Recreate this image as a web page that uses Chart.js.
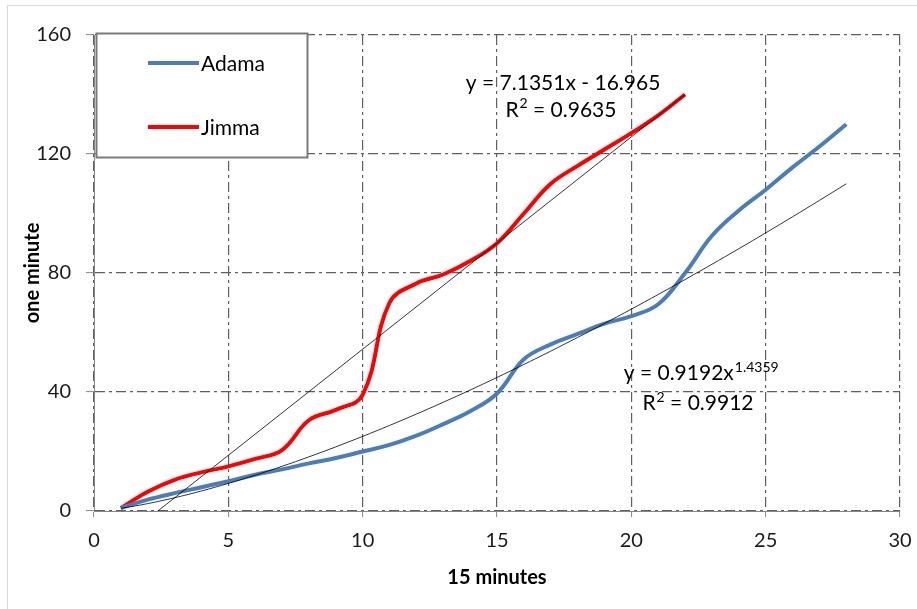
<!DOCTYPE html>
<html>
<head>
<meta charset="utf-8">
<script src="https://cdn.jsdelivr.net/npm/chart.js@4.4.0/dist/chart.umd.min.js"></script>
<style>
  html, body { margin: 0; padding: 0; background: #ffffff; }
  #wrap { width: 917px; height: 609px; position: relative; }
</style>
</head>
<body>
<div id="wrap"><canvas id="chart" width="917" height="609"></canvas></div>
<script>
// Readings taken every 15 minutes (x) against the one-minute value (y)
const adamaMinutes = [1, 2, 3, 4, 5, 6, 7, 8, 9, 10, 11, 12, 13, 14, 15, 16, 17, 18, 19, 20, 21, 22, 23, 24, 25, 26, 27, 28];
const adamaValues  = [1, 3.8, 6, 8, 10, 12.2, 14, 16, 17.8, 20, 22.2, 25.3, 29.2, 33.5, 39.5, 51, 56, 59.5, 63, 65.5, 69.5, 80, 92.5, 101, 108, 115.5, 122.5, 130];

const jimmaMinutes = [1, 2, 3, 4, 5, 6, 7, 8, 9, 10, 11, 12, 13, 14, 15, 16, 17, 18, 19, 20, 21, 22];
const jimmaValues  = [1, 6.5, 10.5, 13, 15, 17.5, 20.5, 30.5, 34, 39, 70, 76.5, 79.5, 84, 90, 100, 110, 116, 121.5, 127, 133, 140];

const xTickValues = [0, 5, 10, 15, 20, 25, 30];
const yTickValues = [0, 40, 80, 120, 160];

// Fitted trend lines
const jimmaSlope = 7.1351;
const jimmaIntercept = -16.965;
const jimmaR2 = '0.9635';
const adamaCoef = 0.9192;
const adamaExp = 1.4359;
const adamaR2 = '0.9912';

const FONT = 'Lato, Carlito, "Open Sans", sans-serif';
const BLUE = '#4a7ebb';
const RED = '#ff0000';

const toPoints = (xs, ys) => xs.map((x, i) => ({ x: x, y: ys[i] }));

const linearTrend = [jimmaMinutes[0], jimmaMinutes[jimmaMinutes.length - 1]]
  .map(x => ({ x: x, y: jimmaSlope * x + jimmaIntercept }));

const powerTrend = [];
for (let x = adamaMinutes[0]; x <= adamaMinutes[adamaMinutes.length - 1] + 1e-9; x += 0.25) {
  powerTrend.push({ x: x, y: adamaCoef * Math.pow(x, adamaExp) });
}

// Page background and outer frame
const frame = {
  id: 'frame',
  beforeDraw(chart) {
    const ctx = chart.ctx;
    ctx.save();
    ctx.fillStyle = '#ffffff';
    ctx.fillRect(0, 0, chart.width, chart.height);
    ctx.strokeStyle = '#d9d9d9';
    ctx.lineWidth = 1;
    ctx.strokeRect(7.5, 5.5, chart.width + 20, chart.height + 20);
    ctx.restore();
  }
};

// Draws a run of [text, isSuperscript] pieces centred on (cx, cy)
function drawRich(ctx, parts, cx, cy) {
  const big = '21px ' + FONT, small = '14px ' + FONT;
  let total = 0;
  const widths = parts.map(p => {
    ctx.font = p[1] ? small : big;
    const w = ctx.measureText(p[0]).width + (p[1] ? 1 : 0);
    total += w;
    return w;
  });
  let x = cx - total / 2;
  ctx.textAlign = 'left';
  parts.forEach((p, i) => {
    ctx.font = p[1] ? small : big;
    ctx.fillText(p[0], x + (p[1] ? 1 : 0), p[1] ? cy - 6 : cy);
    x += widths[i];
  });
}

// Boxed legend and trend-line equations
const overlay = {
  id: 'overlay',
  afterDraw(chart) {
    const ctx = chart.ctx;
    const xs = chart.scales.x, ys = chart.scales.y;
    ctx.save();

    // legend box
    const bx = 96.5, by = 33.5, bw = 211, bh = 124;
    ctx.fillStyle = '#ffffff';
    ctx.fillRect(bx, by, bw, bh);
    ctx.strokeStyle = '#7a7a7a';
    ctx.lineWidth = 2;
    ctx.strokeRect(bx, by, bw, bh);

    const entries = [
      { label: chart.data.datasets[0].label, color: BLUE, y: 63 },
      { label: chart.data.datasets[1].label, color: RED, y: 127 }
    ];
    ctx.font = '21px ' + FONT;
    ctx.textBaseline = 'middle';
    ctx.textAlign = 'left';
    entries.forEach(e => {
      ctx.strokeStyle = e.color;
      ctx.lineWidth = 4;
      ctx.beginPath();
      ctx.moveTo(148, e.y);
      ctx.lineTo(199, e.y);
      ctx.stroke();
      ctx.fillStyle = '#000000';
      ctx.fillText(e.label, 201, e.y + 1);
    });

    ctx.fillStyle = '#000000';

    // linear fit equation (Jimma)
    drawRich(ctx, [['y = ' + jimmaSlope + 'x - ' + Math.abs(jimmaIntercept), false]],
      xs.getPixelForValue(17.46), ys.getPixelForValue(143.9));
    drawRich(ctx, [['R', false], ['2', true], [' = ' + jimmaR2, false]],
      xs.getPixelForValue(17.38), ys.getPixelForValue(134.8));

    // power fit equation (Adama)
    drawRich(ctx, [['y = ' + adamaCoef + 'x', false], [String(adamaExp), true]],
      xs.getPixelForValue(22.6), ys.getPixelForValue(46.2));
    drawRich(ctx, [['R', false], ['2', true], [' = ' + adamaR2, false]],
      xs.getPixelForValue(22.48), ys.getPixelForValue(36.2));

    ctx.restore();
  }
};

const gridDash = [10, 4, 3, 4];

new Chart(document.getElementById('chart'), {
  type: 'line',
  data: {
    datasets: [
      { label: 'Adama', data: toPoints(adamaMinutes, adamaValues), borderColor: BLUE, borderWidth: 4,
        pointRadius: 0, tension: 0.4, fill: false, order: 2 },
      { label: 'Jimma', data: toPoints(jimmaMinutes, jimmaValues), borderColor: RED, borderWidth: 4,
        pointRadius: 0, tension: 0.4, fill: false, order: 2 },
      { label: 'Jimma trend', data: linearTrend, borderColor: '#000000', borderWidth: 0.8,
        pointRadius: 0, tension: 0, fill: false, order: 1 },
      { label: 'Adama trend', data: powerTrend, borderColor: '#000000', borderWidth: 0.8,
        pointRadius: 0, tension: 0, fill: false, order: 1 }
    ]
  },
  options: {
    responsive: false,
    animation: false,
    devicePixelRatio: 1,
    layout: { padding: { top: 35, right: 17, left: 0, bottom: 0 } },
    plugins: {
      legend: { display: false },
      tooltip: { enabled: false },
      title: { display: false }
    },
    scales: {
      x: {
        type: 'linear',
        min: 0, max: 30,
        afterFit(scale) { scale.height = 98; scale.paddingLeft = 0; scale.paddingRight = 0; },
        afterBuildTicks(scale) { scale.ticks = xTickValues.map(v => ({ value: v })); },
        ticks: { font: { family: FONT, size: 20 }, color: '#1a1a1a', padding: 12, maxRotation: 0 },
        grid: { color: '#5f5f5f', lineWidth: 1.2, tickLength: 6, tickColor: '#868686', tickWidth: 1, tickBorderDash: [] },
        border: { color: '#868686', width: 1, dash: gridDash },
        title: { display: true, text: '15 minutes', font: { family: FONT, size: 20, weight: 'bold' },
                 color: '#000000', padding: { top: 0, bottom: 19 } }
      },
      y: {
        type: 'linear',
        min: 0, max: 160,
        afterFit(scale) { scale.width = 94; scale.paddingTop = 0; scale.paddingBottom = 0; },
        afterBuildTicks(scale) { scale.ticks = yTickValues.map(v => ({ value: v })); },
        ticks: { font: { family: FONT, size: 20 }, color: '#1a1a1a', padding: 15 },
        grid: { color: '#5f5f5f', lineWidth: 1.2, tickLength: 8, tickColor: '#868686', tickWidth: 1, tickBorderDash: [] },
        border: { color: '#868686', width: 1, dash: gridDash },
        title: { display: true, text: 'one minute', font: { family: FONT, size: 20, weight: 'bold' },
                 color: '#000000', padding: { top: 21, bottom: 0 } }
      }
    }
  },
  plugins: [frame, overlay]
});
</script>
</body>
</html>
